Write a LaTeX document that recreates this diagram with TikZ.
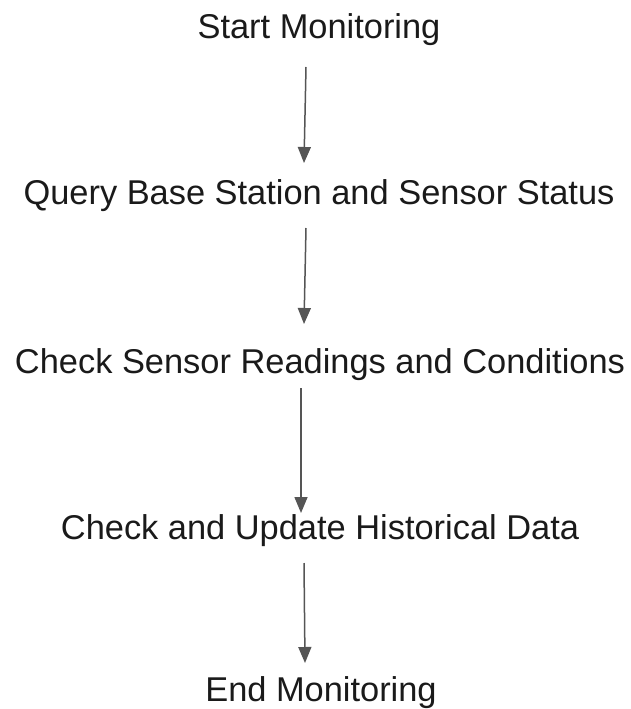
\documentclass[tikz,border=0pt]{standalone}
\usepackage{fontspec}
\setmainfont{Liberation Sans}
\usetikzlibrary{arrows.meta}
\definecolor{arrowgray}{HTML}{555555}
\definecolor{textblack}{HTML}{1A1A1A}
\tikzset{
  lbl/.style={anchor=base, inner sep=0pt, text=textblack, font=\fontsize{34.4}{40}\selectfont},
  flow/.style={draw=arrowgray, line width=1.5pt, -{Triangle[length=16pt,width=13pt]}}
}
\begin{document}
\begin{tikzpicture}[x=1pt,y=-1pt]
\useasboundingbox[fill=white] (0,0) rectangle (631,709);
\node[lbl] (start) at (319,38) {Start Monitoring};
\node[lbl] (query) at (319,204) {Query Base Station and Sensor Status};
\node[lbl] (check) at (320,373) {Check Sensor Readings and Conditions};
\node[lbl] (update) at (320,539) {Check and Update Historical Data};
\node[lbl] (end) at (321,701) {End Monitoring};
\coordinate (a1s) at (306,67);  \coordinate (a1e) at (304,163);
\coordinate (a2s) at (306,228); \coordinate (a2e) at (304,324);
\coordinate (a3s) at (301,388); \coordinate (a3e) at (301,513);
\coordinate (a4s) at (304,563); \coordinate (a4e) at (305,663);
\draw[flow] (a1s) -- (a1e);
\draw[flow] (a2s) -- (a2e);
\draw[flow] (a3s) -- (a3e);
\draw[flow] (a4s) -- (a4e);
\end{tikzpicture}
\end{document}
